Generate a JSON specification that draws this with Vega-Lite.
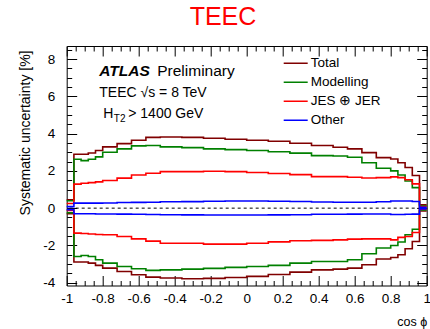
{
  "$schema": "https://vega.github.io/schema/vega-lite/v6.json",
  "width": 360,
  "height": 239.5,
  "autosize": {"type": "none"},
  "padding": {"left": 66.7, "top": 46, "right": 3.3, "bottom": 43.5},
  "background": "white",
  "title": {"text": "TEEC", "color": "#ff0000", "fontSize": 25, "font": "Liberation Sans", "fontWeight": "normal", "anchor": "middle", "frame": "group", "dx": -23.7, "offset": -7, "baseline": "alphabetic"},
  "config": {
    "view": {"stroke": "black", "strokeWidth": 1},
    "axis": {"labelFont": "Liberation Sans", "titleFont": "Liberation Sans", "labelColor": "black", "titleColor": "black", "tickColor": "black", "domain": false, "grid": false, "labelOverlap": false, "labelBound": false, "labelFlush": false, "tickWidth": 1, "tickSize": 0, "labelFontSize": 13.5, "titleFontWeight": "normal"},
    "legend": {"orient": "none", "legendX": 216, "legendY": 8.2, "title": null, "symbolType": "stroke", "symbolSize": 576, "symbolStrokeWidth": 1.6, "labelFontSize": 13.5, "labelFont": "Liberation Sans", "labelColor": "black", "labelOffset": 2, "rowPadding": 0, "clipHeight": 18.1, "padding": 0},
    "text": {"font": "Liberation Sans", "color": "black"}
  },
  "datasets": {
    "up": [
      {"x": -1, "Total": 0.45, "Modelling": 0.40, "JES ⊕ JER": 0.25, "Other": 0.08},
      {"x": -0.96, "Total": 2.89, "Modelling": 2.62, "JES ⊕ JER": 1.29, "Other": 0.27},
      {"x": -0.92, "Total": 2.89, "Modelling": 2.55, "JES ⊕ JER": 1.34, "Other": 0.27},
      {"x": -0.88, "Total": 2.96, "Modelling": 2.62, "JES ⊕ JER": 1.37, "Other": 0.27},
      {"x": -0.84, "Total": 3.09, "Modelling": 2.75, "JES ⊕ JER": 1.41, "Other": 0.27},
      {"x": -0.8, "Total": 3.29, "Modelling": 3.00, "JES ⊕ JER": 1.48, "Other": 0.28},
      {"x": -0.72, "Total": 3.46, "Modelling": 3.18, "JES ⊕ JER": 1.61, "Other": 0.30},
      {"x": -0.64, "Total": 3.64, "Modelling": 3.34, "JES ⊕ JER": 1.78, "Other": 0.31},
      {"x": -0.56, "Total": 3.80, "Modelling": 3.36, "JES ⊕ JER": 1.87, "Other": 0.32},
      {"x": -0.48, "Total": 3.82, "Modelling": 3.29, "JES ⊕ JER": 1.96, "Other": 0.34},
      {"x": -0.36, "Total": 3.80, "Modelling": 3.25, "JES ⊕ JER": 1.96, "Other": 0.35},
      {"x": -0.24, "Total": 3.75, "Modelling": 3.18, "JES ⊕ JER": 1.98, "Other": 0.37},
      {"x": -0.12, "Total": 3.70, "Modelling": 3.14, "JES ⊕ JER": 1.96, "Other": 0.38},
      {"x": 0, "Total": 3.64, "Modelling": 3.09, "JES ⊕ JER": 1.91, "Other": 0.38},
      {"x": 0.12, "Total": 3.59, "Modelling": 3.03, "JES ⊕ JER": 1.86, "Other": 0.37},
      {"x": 0.24, "Total": 3.48, "Modelling": 2.95, "JES ⊕ JER": 1.80, "Other": 0.36},
      {"x": 0.36, "Total": 3.36, "Modelling": 2.82, "JES ⊕ JER": 1.69, "Other": 0.33},
      {"x": 0.48, "Total": 3.27, "Modelling": 2.80, "JES ⊕ JER": 1.69, "Other": 0.32},
      {"x": 0.56, "Total": 3.18, "Modelling": 2.73, "JES ⊕ JER": 1.66, "Other": 0.32},
      {"x": 0.64, "Total": 2.98, "Modelling": 2.44, "JES ⊕ JER": 1.62, "Other": 0.32},
      {"x": 0.72, "Total": 2.71, "Modelling": 2.14, "JES ⊕ JER": 1.64, "Other": 0.34},
      {"x": 0.8, "Total": 2.64, "Modelling": 2.00, "JES ⊕ JER": 1.68, "Other": 0.38},
      {"x": 0.84, "Total": 2.44, "Modelling": 1.78, "JES ⊕ JER": 1.64, "Other": 0.38},
      {"x": 0.88, "Total": 2.18, "Modelling": 1.46, "JES ⊕ JER": 1.52, "Other": 0.38},
      {"x": 0.92, "Total": 1.75, "Modelling": 1.10, "JES ⊕ JER": 1.30, "Other": 0.36},
      {"x": 0.96, "Total": 0.18, "Modelling": 0.12, "JES ⊕ JER": 0.08, "Other": 0.04},
      {"x": 1, "Total": 0.18, "Modelling": 0.12, "JES ⊕ JER": 0.08, "Other": 0.04}
    ],
    "down": [
      {"x": -1, "Total": -0.30, "Modelling": -0.25, "JES ⊕ JER": -0.12, "Other": -0.08},
      {"x": -0.96, "Total": -2.89, "Modelling": -2.59, "JES ⊕ JER": -1.34, "Other": -0.30},
      {"x": -0.92, "Total": -2.89, "Modelling": -2.54, "JES ⊕ JER": -1.36, "Other": -0.30},
      {"x": -0.88, "Total": -2.95, "Modelling": -2.59, "JES ⊕ JER": -1.39, "Other": -0.30},
      {"x": -0.84, "Total": -3.07, "Modelling": -2.77, "JES ⊕ JER": -1.41, "Other": -0.31},
      {"x": -0.8, "Total": -3.22, "Modelling": -2.95, "JES ⊕ JER": -1.43, "Other": -0.31},
      {"x": -0.72, "Total": -3.40, "Modelling": -3.13, "JES ⊕ JER": -1.52, "Other": -0.32},
      {"x": -0.64, "Total": -3.57, "Modelling": -3.25, "JES ⊕ JER": -1.65, "Other": -0.33},
      {"x": -0.56, "Total": -3.70, "Modelling": -3.34, "JES ⊕ JER": -1.77, "Other": -0.34},
      {"x": -0.48, "Total": -3.75, "Modelling": -3.31, "JES ⊕ JER": -1.88, "Other": -0.35},
      {"x": -0.36, "Total": -3.79, "Modelling": -3.27, "JES ⊕ JER": -1.88, "Other": -0.36},
      {"x": -0.24, "Total": -3.77, "Modelling": -3.23, "JES ⊕ JER": -1.93, "Other": -0.37},
      {"x": -0.12, "Total": -3.72, "Modelling": -3.18, "JES ⊕ JER": -1.93, "Other": -0.37},
      {"x": 0, "Total": -3.66, "Modelling": -3.13, "JES ⊕ JER": -1.88, "Other": -0.37},
      {"x": 0.12, "Total": -3.56, "Modelling": -3.07, "JES ⊕ JER": -1.81, "Other": -0.36},
      {"x": 0.24, "Total": -3.43, "Modelling": -2.95, "JES ⊕ JER": -1.75, "Other": -0.35},
      {"x": 0.36, "Total": -3.31, "Modelling": -2.86, "JES ⊕ JER": -1.73, "Other": -0.33},
      {"x": 0.48, "Total": -3.27, "Modelling": -2.86, "JES ⊕ JER": -1.70, "Other": -0.33},
      {"x": 0.56, "Total": -3.22, "Modelling": -2.77, "JES ⊕ JER": -1.66, "Other": -0.32},
      {"x": 0.64, "Total": -3.04, "Modelling": -2.45, "JES ⊕ JER": -1.65, "Other": -0.31},
      {"x": 0.72, "Total": -2.73, "Modelling": -2.14, "JES ⊕ JER": -1.65, "Other": -0.31},
      {"x": 0.8, "Total": -2.65, "Modelling": -2.00, "JES ⊕ JER": -1.70, "Other": -0.34},
      {"x": 0.84, "Total": -2.50, "Modelling": -1.82, "JES ⊕ JER": -1.57, "Other": -0.34},
      {"x": 0.88, "Total": -2.18, "Modelling": -1.43, "JES ⊕ JER": -1.52, "Other": -0.33},
      {"x": 0.92, "Total": -1.79, "Modelling": -1.13, "JES ⊕ JER": -1.31, "Other": -0.32},
      {"x": 0.96, "Total": -0.15, "Modelling": -0.10, "JES ⊕ JER": -0.05, "Other": -0.04},
      {"x": 1, "Total": -0.15, "Modelling": -0.10, "JES ⊕ JER": -0.05, "Other": -0.04}
    ]
  },
  "layer": [
    {
      "data": {"values": [{}]},
      "mark": {"type": "rule", "color": "black", "strokeDash": [3, 3], "strokeWidth": 1},
      "encoding": {"y": {"datum": 0, "type": "quantitative", "axis": null}}
    },
    {
      "data": {"name": "up"},
      "transform": [{"fold": ["Total", "Modelling", "JES ⊕ JER", "Other"], "as": ["s", "v"]}],
      "mark": {"type": "line", "interpolate": "step-after", "strokeWidth": 1.6},
      "encoding": {
        "x": {"field": "x", "type": "quantitative", "scale": {"domain": [-1, 1], "nice": false, "zero": false},
          "axis": {"orient": "bottom", "values": [-1,-0.95,-0.9,-0.85,-0.8,-0.75,-0.7,-0.65,-0.6,-0.55,-0.5,-0.45,-0.4,-0.35,-0.3,-0.25,-0.2,-0.15,-0.1,-0.05,0,0.05,0.1,0.15,0.2,0.25,0.3,0.35,0.4,0.45,0.5,0.55,0.6,0.65,0.7,0.75,0.8,0.85,0.9,0.95,1],
            "encoding": {"ticks": {"y2": {"condition": {"test": "abs(round(datum.value*100)) % 20 == 0", "value": -10}, "value": -5}}},
            "labelExpr": "abs(round(datum.value*100)) % 20 == 0 ? datum.value + '' : ''",
            "labelPadding": 6, "title": "cos ϕ", "titleAnchor": "end", "titleFontSize": 12.5, "titlePadding": 10}},
        "y": {"field": "v", "type": "quantitative", "scale": {"domain": [-4.15, 8.7], "nice": false, "zero": false},
          "axis": {"orient": "left", "values": [-4,-3.5,-3,-2.5,-2,-1.5,-1,-0.5,0,0.5,1,1.5,2,2.5,3,3.5,4,4.5,5,5.5,6,6.5,7,7.5,8,8.5],
            "encoding": {"ticks": {"x2": {"condition": {"test": "abs(round(datum.value*2)) % 4 == 0", "value": 10}, "value": 5}}},
            "labelExpr": "abs(round(datum.value*2)) % 4 == 0 ? datum.value + '' : ''",
            "labelPadding": 12, "title": "Systematic uncertainty [%]", "titleAnchor": "end", "titleY": 4, "titleFontSize": 14, "titlePadding": 10}},
        "color": {"field": "s", "type": "nominal", "scale": {"domain": ["Total", "Modelling", "JES ⊕ JER", "Other"], "range": ["#800000", "#008000", "#ff0000", "#0000ff"]}},
        "detail": {"field": "s"}
      }
    },
    {
      "data": {"name": "down"},
      "transform": [{"fold": ["Total", "Modelling", "JES ⊕ JER", "Other"], "as": ["s", "v"]}],
      "mark": {"type": "line", "interpolate": "step-after", "strokeWidth": 1.6},
      "encoding": {
        "x": {"field": "x", "type": "quantitative", "axis": null},
        "y": {"field": "v", "type": "quantitative", "axis": null},
        "color": {"field": "s", "type": "nominal"}
      }
    },
    {
      "data": {"name": "up"},
      "mark": {"type": "line", "opacity": 0},
      "encoding": {
        "x": {"field": "x", "type": "quantitative",
          "axis": {"orient": "top", "values": [-1,-0.95,-0.9,-0.85,-0.8,-0.75,-0.7,-0.65,-0.6,-0.55,-0.5,-0.45,-0.4,-0.35,-0.3,-0.25,-0.2,-0.15,-0.1,-0.05,0,0.05,0.1,0.15,0.2,0.25,0.3,0.35,0.4,0.45,0.5,0.55,0.6,0.65,0.7,0.75,0.8,0.85,0.9,0.95,1],
            "encoding": {"ticks": {"y2": {"condition": {"test": "abs(round(datum.value*100)) % 20 == 0", "value": 10}, "value": 5}}},
            "labels": false, "title": null}},
        "y": {"field": "Total", "type": "quantitative",
          "axis": {"orient": "right", "values": [-4,-3.5,-3,-2.5,-2,-1.5,-1,-0.5,0,0.5,1,1.5,2,2.5,3,3.5,4,4.5,5,5.5,6,6.5,7,7.5,8,8.5],
            "encoding": {"ticks": {"x2": {"condition": {"test": "abs(round(datum.value*2)) % 4 == 0", "value": -10}, "value": -5}}},
            "labels": false, "title": null}}
      }
    },
    {
      "data": {"values": [{"t": "ATLAS"}]},
      "mark": {"type": "text", "align": "left", "baseline": "alphabetic", "fontSize": 15.5, "fontStyle": "italic", "fontWeight": "bold"},
      "encoding": {"x": {"datum": -0.819, "type": "quantitative", "axis": null}, "y": {"datum": 7.11, "type": "quantitative", "axis": null}, "text": {"field": "t"}}
    },
    {
      "data": {"values": [{"t": "Preliminary"}]},
      "mark": {"type": "text", "align": "left", "baseline": "alphabetic", "fontSize": 15.5},
      "encoding": {"x": {"datum": -0.497, "type": "quantitative", "axis": null}, "y": {"datum": 7.11, "type": "quantitative", "axis": null}, "text": {"field": "t"}}
    },
    {
      "data": {"values": [{"t": "TEEC √s = 8 TeV"}]},
      "mark": {"type": "text", "align": "left", "baseline": "alphabetic", "fontSize": 14},
      "encoding": {"x": {"datum": -0.819, "type": "quantitative", "axis": null}, "y": {"datum": 5.95, "type": "quantitative", "axis": null}, "text": {"field": "t"}}
    },
    {
      "data": {"values": [{"t": "H"}]},
      "mark": {"type": "text", "align": "left", "baseline": "alphabetic", "fontSize": 14},
      "encoding": {"x": {"datum": -0.797, "type": "quantitative", "axis": null}, "y": {"datum": 4.82, "type": "quantitative", "axis": null}, "text": {"field": "t"}}
    },
    {
      "data": {"values": [{"t": "T2"}]},
      "mark": {"type": "text", "align": "left", "baseline": "alphabetic", "fontSize": 10},
      "encoding": {"x": {"datum": -0.738, "type": "quantitative", "axis": null}, "y": {"datum": 4.62, "type": "quantitative", "axis": null}, "text": {"field": "t"}}
    },
    {
      "data": {"values": [{"t": "> 1400 GeV"}]},
      "mark": {"type": "text", "align": "left", "baseline": "alphabetic", "fontSize": 14},
      "encoding": {"x": {"datum": -0.658, "type": "quantitative", "axis": null}, "y": {"datum": 4.82, "type": "quantitative", "axis": null}, "text": {"field": "t"}}
    }
  ]
}
